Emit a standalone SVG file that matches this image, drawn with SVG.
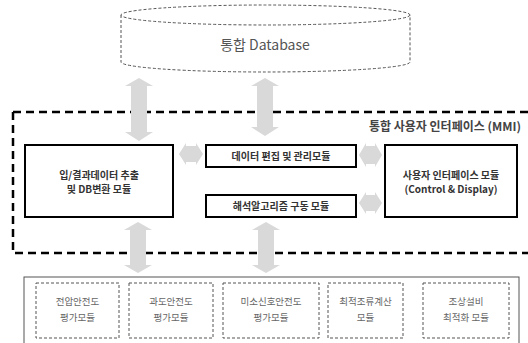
<svg xmlns="http://www.w3.org/2000/svg" width="528" height="343" viewBox="0 0 528 343">
<style>
.arrow{fill:#d9d9d9;stroke:none}
.box{fill:#fff;stroke:#000;stroke-width:2}
.btxt{font-family:"Noto Sans CJK KR","Noto Sans",sans-serif;font-size:10px;font-weight:bold;fill:#333;text-anchor:middle}
.stxt{font-family:"Noto Sans CJK KR","Noto Sans",sans-serif;font-size:9.5px;fill:#666;text-anchor:middle}
.dbox{fill:#fff;stroke:#555;stroke-width:1;stroke-dasharray:3,2}
</style>
<rect width="528" height="343" fill="#fff"/>
<g id="database">
<path d="M121,15 L121,62 A144.5,10 0 0 0 410,62 L410,15" fill="#fff" stroke="#555" stroke-width="1" stroke-dasharray="3,2"/>
<ellipse cx="265.5" cy="15" rx="144.5" ry="10" fill="#fff" stroke="#555" stroke-width="1" stroke-dasharray="3,2"/>
<text x="265" y="50" font-family="Noto Sans CJK KR,Noto Sans,sans-serif" font-size="14" fill="#555" text-anchor="middle">통합 Database</text>
</g>
<g id="mmi">
<path d="M13,112 L540,112 M13,112 L13,253 L540,253" fill="none" stroke="#000" stroke-width="2.5" stroke-dasharray="8,5"/>
<text x="521" y="131" font-family="Noto Sans CJK KR,Noto Sans,sans-serif" font-size="12" font-weight="bold" fill="#444" text-anchor="end">통합 사용자 인터페이스 (MMI)</text>
</g>
<g id="connectors">
<polygon class="arrow" points="139,78 153,86 147,86 147,132 153,132 139,141 125,132 131,132 131,86 125,86"/>
<polygon class="arrow" points="265,78 279,86 273,86 273,127 279,127 265,136 251,127 257,127 257,86 251,86"/>
<polygon class="arrow" points="138,222 152,230 146,230 146,265 152,265 138,273 124,265 130,265 130,230 124,230"/>
<polygon class="arrow" points="266,222 280,230 274,230 274,265 280,265 266,273 252,265 258,265 258,230 252,230"/>
<polygon class="arrow" points="179,154 186,143 186,146 196,146 196,143 203,154 196,165 196,162 186,162 186,165"/>
<polygon class="arrow" points="359,155 366,143 366,146 375,146 375,143 382,155 375,167 375,164 366,164 366,167"/>
<polygon class="arrow" points="359,203 366,192 366,195 375,195 375,192 382,203 375,214 375,211 366,211 366,214"/>
</g>
<g id="extract">
<rect class="box" x="25" y="145" width="148" height="72"/>
<text class="btxt" x="99" y="179">입/결과데이터 추출</text>
<text class="btxt" x="99" y="193">및 DB변환 모듈</text>
</g>
<g id="edit">
<rect class="box" x="206" y="145" width="150" height="22"/>
<text class="btxt" x="281" y="160">데이터 편집 및 관리모듈</text>
</g>
<g id="algo">
<rect class="box" x="206" y="195" width="150" height="22"/>
<text class="btxt" x="281" y="210">해석알고리즘 구동 모듈</text>
</g>
<g id="ui">
<rect class="box" x="385" y="145" width="132" height="72"/>
<text class="btxt" x="451" y="179">사용자 인터페이스 모듈</text>
<text class="btxt" x="451" y="193">(Control &amp; Display)</text>
</g>
<g id="modules">
<rect x="24" y="277" width="495" height="80" fill="#fff" stroke="#555" stroke-width="1"/>
</g>
<g id="m1">
<rect class="dbox" x="36" y="283" width="83" height="55"/>
<text class="stxt" x="77.5" y="305">전압안전도</text>
<text class="stxt" x="77.5" y="321">평가모듈</text>
</g>
<g id="m2">
<rect class="dbox" x="129" y="283" width="84" height="55"/>
<text class="stxt" x="171" y="305">과도안전도</text>
<text class="stxt" x="171" y="321">평가모듈</text>
</g>
<g id="m3">
<rect class="dbox" x="223" y="283" width="96" height="55"/>
<text class="stxt" x="271" y="305">미소신호안전도</text>
<text class="stxt" x="271" y="321">평가모듈</text>
</g>
<g id="m4">
<rect class="dbox" x="328" y="283" width="75" height="55"/>
<text class="stxt" x="365.5" y="305">최적조류계산</text>
<text class="stxt" x="365.5" y="321">모듈</text>
</g>
<g id="m5">
<rect class="dbox" x="423" y="283" width="86" height="55"/>
<text class="stxt" x="466" y="305">조상설비</text>
<text class="stxt" x="466" y="321">최적화 모듈</text>
</g>
</svg>
